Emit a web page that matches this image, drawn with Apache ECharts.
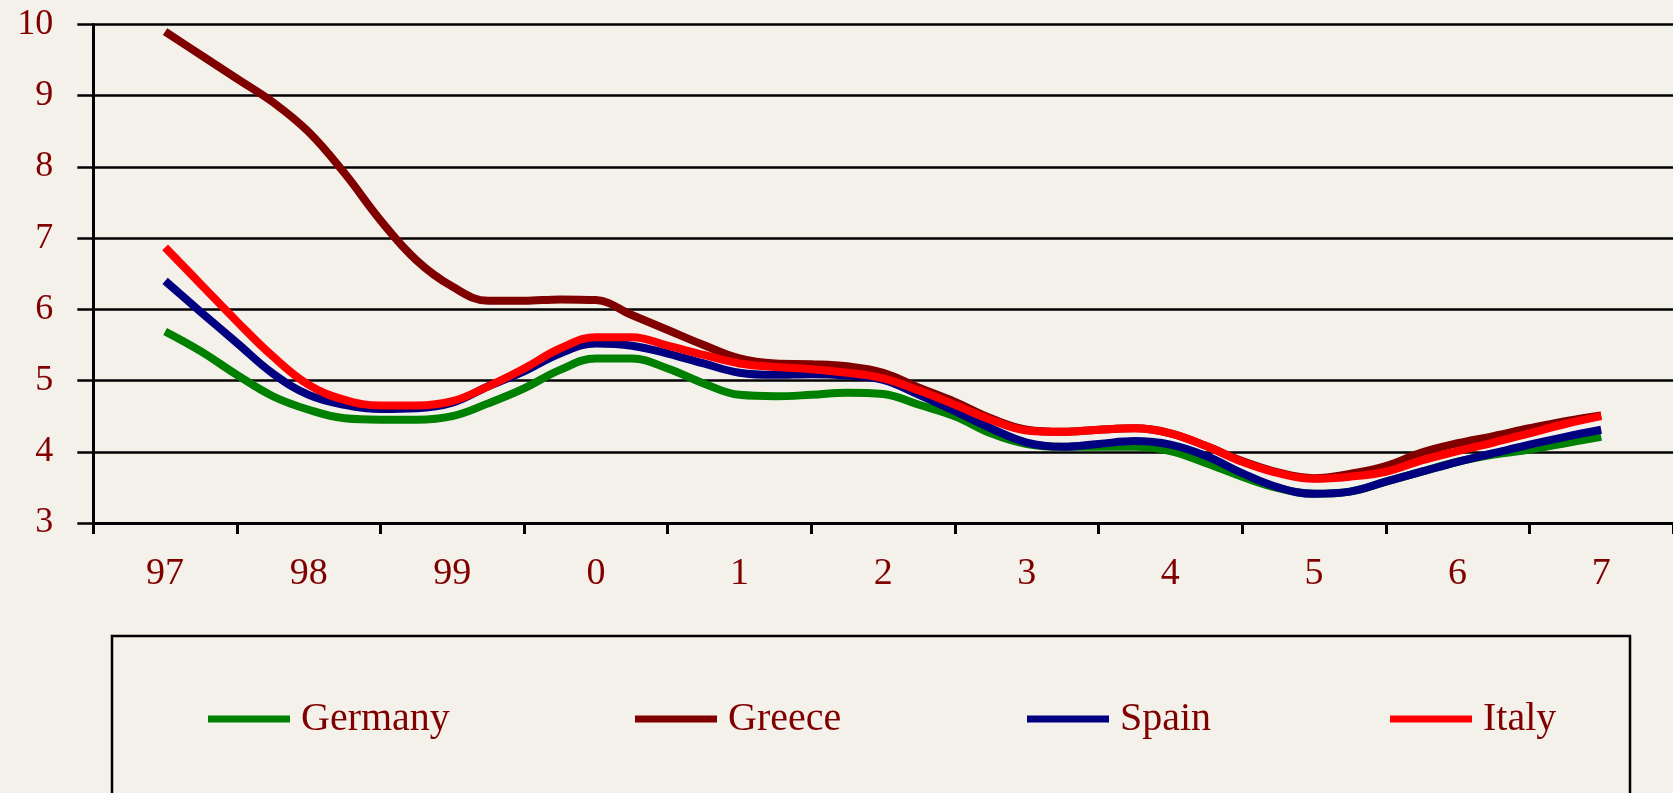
<!DOCTYPE html>
<html>
<head>
<meta charset="utf-8">
<script src="https://cdn.jsdelivr.net/npm/echarts@6/dist/echarts.min.js"></script>
<style>
  html, body { margin: 0; padding: 0; background: #F4F1EA; }
  #chart { width: 1673px; height: 793px; }
</style>
</head>
<body>
<div id="chart"></div>
<script>
// year labels on the axis, one band per year
var years = ['97', '98', '99', '0', '1', '2', '3', '4', '5', '6', '7']

// quarterly values, first point at the middle of '97', last at the middle of '7'
var germany = [5.69, 5.41, 5.08, 4.78, 4.59, 4.47, 4.45, 4.45, 4.50, 4.68,
  4.89, 5.15, 5.31, 5.31, 5.17, 4.96, 4.80, 4.78, 4.80, 4.83,
  4.81, 4.66, 4.50, 4.26, 4.11, 4.07, 4.07, 4.07, 4.01, 3.84,
  3.65, 3.49, 3.41, 3.44, 3.58, 3.72, 3.86, 3.96, 4.03, 4.12, 4.21]
var greece = [9.90, 9.57, 9.24, 8.91, 8.49, 7.91, 7.25, 6.69, 6.32, 6.12,
  6.12, 6.14, 6.13, 5.92, 5.71, 5.50, 5.31, 5.24, 5.23, 5.20,
  5.11, 4.90, 4.70, 4.47, 4.31, 4.28, 4.31, 4.33, 4.26, 4.08,
  3.87, 3.71, 3.63, 3.69, 3.80, 3.99, 4.12, 4.22, 4.33, 4.43, 4.51]
var spain = [6.40, 5.96, 5.53, 5.10, 4.80, 4.66, 4.60, 4.61, 4.69, 4.92,
  5.13, 5.38, 5.52, 5.49, 5.38, 5.24, 5.11, 5.08, 5.09, 5.07,
  5.01, 4.80, 4.57, 4.33, 4.13, 4.07, 4.11, 4.15, 4.10, 3.94,
  3.70, 3.50, 3.41, 3.44, 3.58, 3.72, 3.86, 3.98, 4.10, 4.21, 4.31]
var italy = [6.87, 6.35, 5.83, 5.34, 4.94, 4.73, 4.65, 4.65, 4.71, 4.92,
  5.17, 5.45, 5.61, 5.61, 5.49, 5.36, 5.24, 5.19, 5.16, 5.11,
  5.03, 4.86, 4.66, 4.45, 4.30, 4.28, 4.31, 4.33, 4.26, 4.08,
  3.86, 3.70, 3.62, 3.65, 3.72, 3.88, 4.01, 4.13, 4.26, 4.39, 4.50]

var labelColor = '#800000'
var font = '"Liberation Serif", "Times New Roman", serif'

function toPoints (vals) {
  return vals.map(function (v, i) { return [i / 4, v] })
}

function lineSeries (name, color, vals) {
  return {name: name, type: 'line', xAxisIndex: 1, symbol: 'none', smooth: 0.4,
    itemStyle: {color: color}, lineStyle: {width: 8, color: color, join: 'round'}, data: toPoints(vals)}
}

function legendAt (name, left) {
  return {data: [name], left: left, top: 694, icon: 'rect', itemWidth: 82, itemHeight: 7,
    selectedMode: false, textStyle: {color: labelColor, fontFamily: font, fontSize: 40, padding: [0, 0, 0, 6]}}
}

var chart = echarts.init(document.getElementById('chart'))
var option = {
  backgroundColor: '#F4F1EA',
  animation: false,
  grid: {left: 93.3, top: 24.5, right: -15.3, bottom: 270},
  legend: [legendAt('Germany', 203), legendAt('Greece', 630), legendAt('Spain', 1022), legendAt('Italy', 1385)],
  graphic: [{type: 'rect', shape: {x: 112, y: 636, width: 1518, height: 200},
    style: {fill: null, stroke: '#000', lineWidth: 2.5}, z: -1}],
  xAxis: [
    {type: 'category', data: years, boundaryGap: true,
      axisLine: {show: true, lineStyle: {color: '#000', width: 3}},
      axisTick: {show: true, length: 11, lineStyle: {color: '#000', width: 3}},
      axisLabel: {interval: 0, margin: 32, color: labelColor, fontFamily: font, fontSize: 38},
      splitLine: {show: false}},
    {type: 'value', min: -0.5, max: 10.5, show: false}
  ],
  yAxis: {type: 'value', min: 3, max: 10, interval: 1,
    axisLine: {show: true, onZero: false, lineStyle: {color: '#000', width: 3}},
    axisTick: {show: true, length: 16, lineStyle: {color: '#000', width: 2.5}},
    axisLabel: {margin: 40, color: labelColor, fontFamily: font, fontSize: 36},
    splitLine: {show: true, lineStyle: {color: '#000', width: 2.5}}},
  series: [
    lineSeries('Germany', '#008000', germany),
    lineSeries('Greece', '#800000', greece),
    lineSeries('Spain', '#000080', spain),
    lineSeries('Italy', '#FF0000', italy)
  ]
}
chart.setOption(option)
</script>
</body>
</html>
